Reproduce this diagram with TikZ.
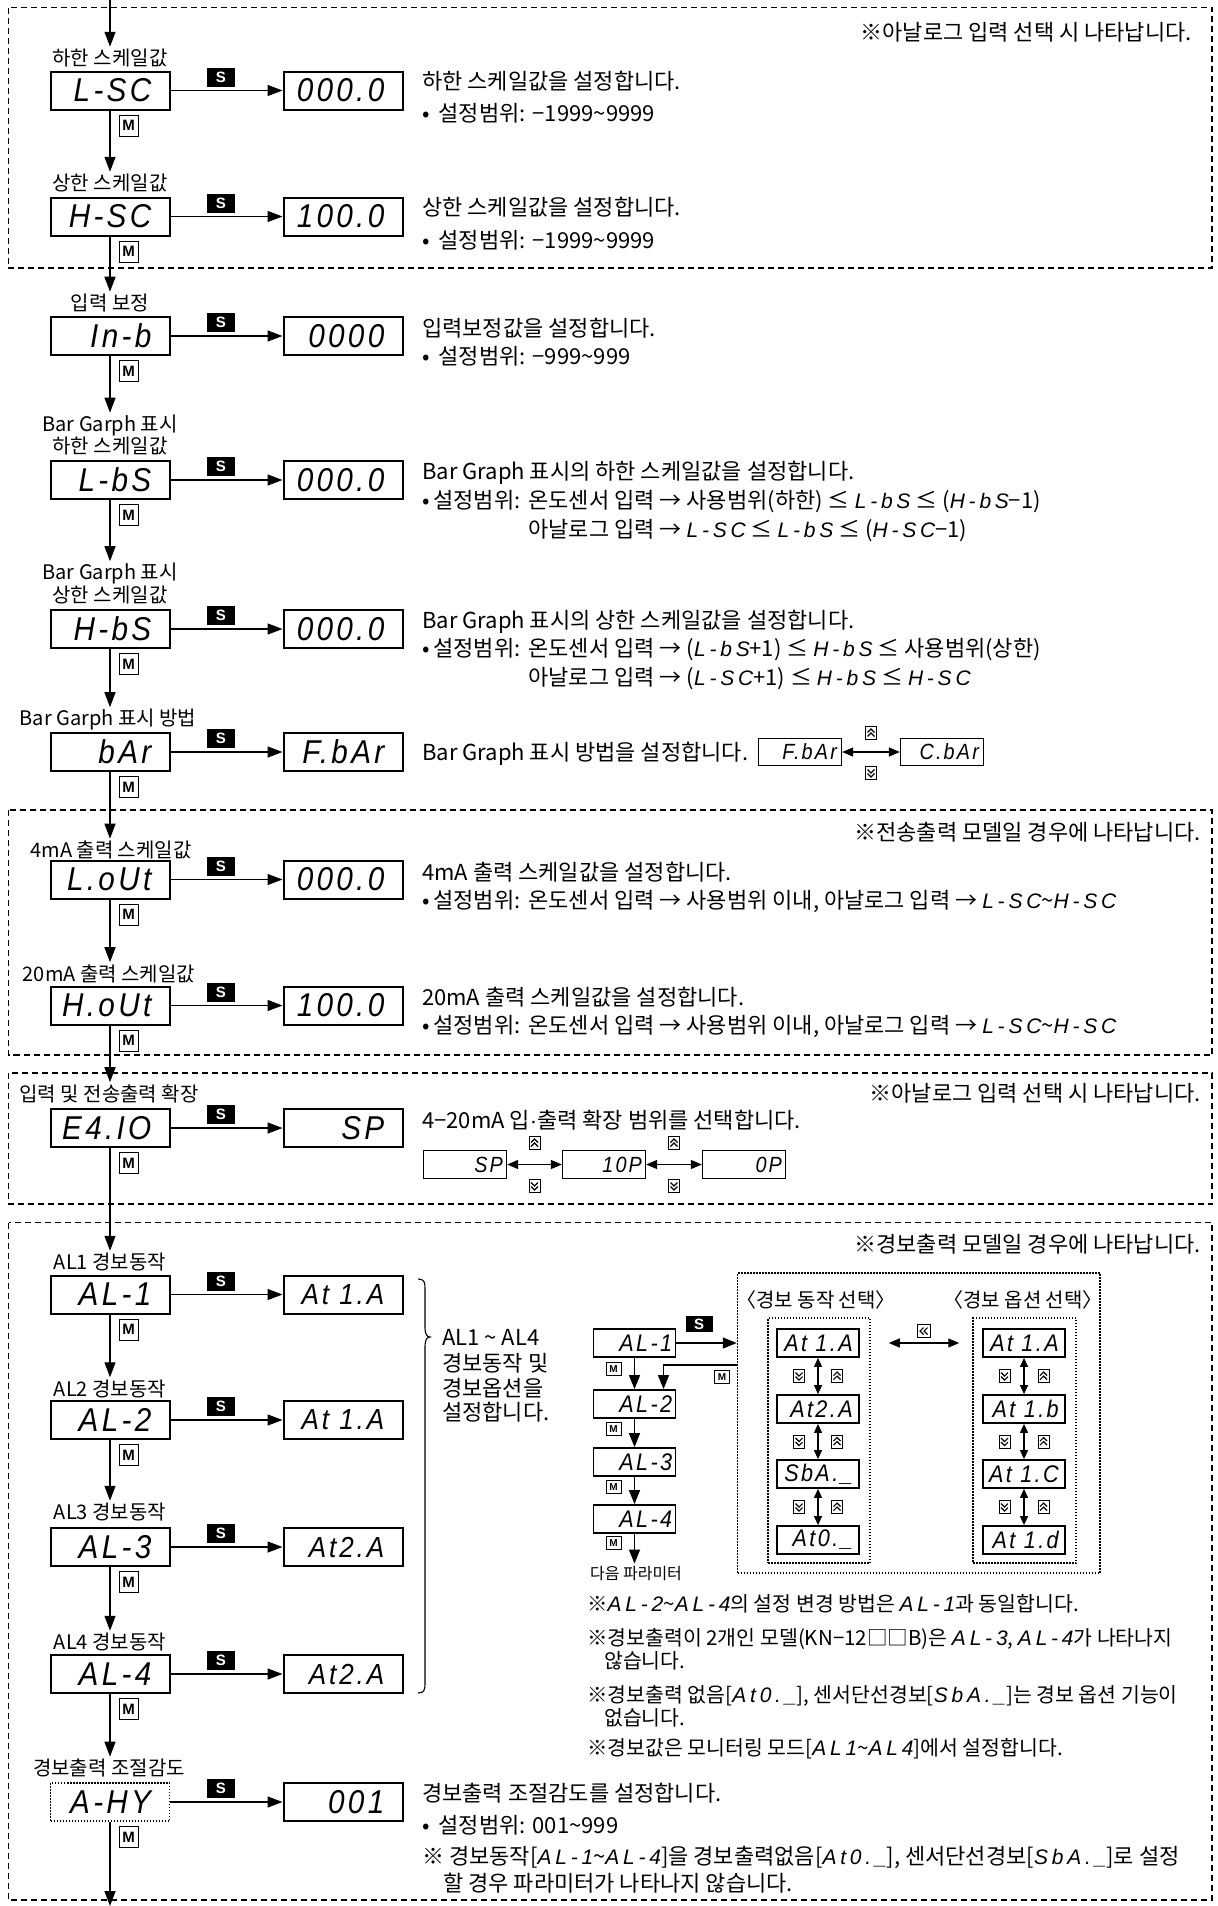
\documentclass[tikz,border=0pt]{standalone}
\usepackage{fontspec}
\setmainfont{Noto Sans CJK KR}
\newfontfamily\segf{Liberation Sans}[FakeStretch=0.9, LetterSpace=10]
\newfontfamily\segi{Liberation Sans}[LetterSpace=18]
\newfontfamily\keyf{Liberation Sans}
\usetikzlibrary{arrows.meta,calc}
\newcommand\sg[1]{{\segi\itshape\fontsize{21}{21}\selectfont #1}}
\newcommand\tld{\textasciitilde}
\newcommand\smv[1]{{\fontsize{29}{29}\selectfont #1}}
\newcommand\prow[5][]{%
  \node[dbox,#1] (#2) at (110,#3) {};
  \node[segt] (#2t) at ([xshift=-19pt]#2.east) {#4};
  \node[dbox] (#2v) at (343,#3) {};
  \node[segt] (#2vt) at ([xshift=-19pt]#2v.east) {#5};
  \draw[arr] (#2.east) -- (#2v.west);
  \node[skey] (#2s) at (221,#3-13.5) {S};
  \node[mkey] (#2m) at (128.5,#3+35) {M};
}
\tikzset{
 arr/.style={-{Triangle[length=15pt,width=11pt]}, line width=1.3},
 sarr/.style={-{Triangle[length=14pt,width=11pt]}, line width=1.3},
 darr/.style={{Triangle[length=11pt,width=9pt]}-{Triangle[length=11pt,width=9pt]}, line width=1.3},
 vdarr/.style={{Triangle[length=9pt,width=8pt]}-{Triangle[length=9pt,width=8pt]}, line width=1.2},
 dbox/.style={draw, line width=2, minimum width=119, minimum height=38, inner sep=0},
 segt/.style={font=\segf\itshape\fontsize{33}{33}\selectfont, inner sep=0, anchor=east},
 smallbox/.style={draw, line width=1.3, minimum width=83, minimum height=27.5, inner sep=0},
 smallt/.style={font=\segf\itshape\fontsize{22}{22}\selectfont, inner sep=0, anchor=east},
 alsbox/.style={draw, line width=1.8, minimum width=82, minimum height=28, inner sep=0},
 alst/.style={font=\segf\itshape\fontsize{24}{24}\selectfont, inner sep=0, anchor=east},
 skey/.style={fill=black, minimum width=28, minimum height=19, inner sep=0, text=white, font=\keyf\bfseries\fontsize{15}{15}\selectfont},
 mkey/.style={draw, line width=1, fill=white, minimum width=19, minimum height=21, inner sep=0, font=\keyf\bfseries\fontsize{15}{15}\selectfont},
 smkey/.style={draw, line width=0.8, fill=white, minimum width=15, minimum height=12.5, inner sep=0, font=\keyf\bfseries\fontsize{10}{10}\selectfont},
 lbl/.style={font=\fontsize{20}{21}\selectfont, inner sep=2, align=center},
 txt/.style={font=\fontsize{22}{24}\selectfont, inner sep=0, anchor=base west},
 mtxt/.style={font=\fontsize{20.5}{24}\selectfont, inner sep=0, anchor=base west},
 note/.style={font=\fontsize{22}{24}\selectfont, inner sep=0, anchor=east},
 dashbox/.style={line width=1.1, dash pattern=on 6pt off 4pt},
 dotbox/.style={line width=1.5, dash pattern=on 1.5pt off 1.5pt},
 upic/.pic={\draw[line width=0.7] (-5.5,-6.5) rectangle (5.5,6.5);
   \draw[line width=1.1] (-3.5,-0.5)--(0,-4)--(3.5,-0.5) (-3.5,3.5)--(0,0)--(3.5,3.5);},
 dnic/.pic={\draw[line width=0.7] (-5.5,-6.5) rectangle (5.5,6.5);
   \draw[line width=1.1] (-3.5,0.5)--(0,4)--(3.5,0.5) (-3.5,-3.5)--(0,0)--(3.5,-3.5);},
 lfic/.pic={\draw[line width=0.7] (-6.5,-6.5) rectangle (6.5,6.5);
   \draw[line width=1.1] (-0.5,-3.5)--(-4,0)--(-0.5,3.5) (3.5,-3.5)--(0,0)--(3.5,3.5);},
}
\begin{document}
\begin{tikzpicture}[x=1pt,y=-1pt]
\useasboundingbox (0,0) rectangle (1218,1906);

% dashed group boxes
\draw[dashbox] (8.5,7.5) rectangle (1212,268);
\draw[dashbox] (8.5,810) rectangle (1212,1055);
\draw[dashbox] (8.5,1073) rectangle (1212,1204);
\draw[dashbox] (8.5,1222.5) rectangle (1212,1900);

\node[note] (n1) at (1192,32) {※아날로그 입력 선택 시 나타납니다.};
\node[note] (n2) at (1201,832) {※전송출력 모델일 경우에 나타납니다.};
\node[note] (n3) at (1201,1093) {※아날로그 입력 선택 시 나타납니다.};
\node[note] (n4) at (1201,1244) {※경보출력 모델일 경우에 나타납니다.};

% row 1
\coordinate (top) at (110,0);
\node[lbl] (l1) at (110,58) {하한 스케일값};
\draw[arr] (top) -- (l1.north);
\prow{lsc}{90.5}{L-SC}{000.0}
\node[txt] (t1a) at (422,89) {하한 스케일값을 설정합니다.};
\node[txt] (t1b) at (422,121.5) {•\hspace{9pt}설정범위:\hspace{7pt}−1999\tld9999};

% row 2
\node[lbl] (l2) at (110,183) {상한 스케일값};
\draw[arr] (lsc.south) -- (lsc.south |- l2.north);
\prow{hsc}{216.5}{H-SC}{100.0}
\node[txt] (t2a) at (422,215) {상한 스케일값을 설정합니다.};
\node[txt] (t2b) at (422,248) {•\hspace{9pt}설정범위:\hspace{7pt}−1999\tld9999};

% row 3
\node[lbl] (l3) at (110,303) {입력 보정};
\draw[arr] (hsc.south) -- (hsc.south |- l3.north);
\prow{inb}{336}{In-b}{0000}
\node[txt] (t3a) at (422,336) {입력보정값을 설정합니다.};
\node[txt] (t3b) at (422,364.5) {•\hspace{9pt}설정범위:\hspace{7pt}−999\tld999};

% row 4
\node[lbl] (l4) at (110,435) {Bar Garph 표시\\하한 스케일값};
\draw[arr] (inb.south) -- (inb.south |- l4.north);
\prow{lbs}{480}{L-bS}{000.0}
\node[txt] (t4a) at (422,479) {Bar Graph 표시의 하한 스케일값을 설정합니다.};
\node[txt] (t4b) at (422,508) {•\,설정범위:\hspace{8pt}온도센서 입력 → 사용범위(하한) ≤ \sg{L-bS} ≤ (\sg{H-bS}−1)};
\node[txt] (t4c) at (422,537) {\phantom{•\,설정범위:\hspace{8pt}}아날로그 입력 → \sg{L-SC} ≤ \sg{L-bS} ≤ (\sg{H-SC}−1)};

% row 5
\node[lbl] (l5) at (110,583.5) {Bar Garph 표시\\상한 스케일값};
\draw[arr] (lbs.south) -- (lbs.south |- l5.north);
\prow{hbs}{629}{H-bS}{000.0}
\node[txt] (t5a) at (422,628) {Bar Graph 표시의 상한 스케일값을 설정합니다.};
\node[txt] (t5b) at (422,656.5) {•\,설정범위:\hspace{8pt}온도센서 입력 → (\sg{L-bS}+1) ≤ \sg{H-bS} ≤ 사용범위(상한)};
\node[txt] (t5c) at (422,685.5) {\phantom{•\,설정범위:\hspace{8pt}}아날로그 입력 → (\sg{L-SC}+1) ≤ \sg{H-bS} ≤ \sg{H-SC}};

% row 6
\node[lbl] (l6) at (108,720) {Bar Garph 표시 방법};
\draw[arr] (hbs.south) -- (hbs.south |- l6.north);
\prow{bar}{752}{bAr}{F.bAr}
\node[txt] (t6a) at (422,760) {Bar Graph 표시 방법을 설정합니다.};
\node[smallbox] (fb) at (800,752) {};
\node[smallt] (fbt) at ([xshift=-5pt]fb.east) {F.bAr};
\node[smallbox] (cb) at (942,752) {};
\node[smallt] (cbt) at ([xshift=-5pt]cb.east) {C.bAr};
\draw[darr] (fb) -- (cb);
\pic at (871,733) {upic};
\pic at (871,773) {dnic};

% row 7
\node[lbl] (l7) at (111,850) {4mA 출력 스케일값};
\draw[arr] (bar.south) -- (bar.south |- l7.north);
\prow{lout}{879.5}{L.oUt}{000.0}
\node[txt] (t7a) at (422,880) {4mA 출력 스케일값을 설정합니다.};
\node[txt] (t7b) at (422,908) {•\,설정범위:\hspace{8pt}온도센서 입력 → 사용범위 이내, 아날로그 입력 → \sg{L-SC}\tld\sg{H-SC}};

% row 8
\node[lbl] (l8) at (109,973.5) {20mA 출력 스케일값};
\draw[arr] (lout.south) -- (lout.south |- l8.north);
\prow{hout}{1005.5}{H.oUt}{100.0}
\node[txt] (t8a) at (422,1005) {20mA 출력 스케일값을 설정합니다.};
\node[txt] (t8b) at (422,1033) {•\,설정범위:\hspace{8pt}온도센서 입력 → 사용범위 이내, 아날로그 입력 → \sg{L-SC}\tld\sg{H-SC}};

% row 9
\node[lbl] (l9) at (109,1093.5) {입력 및 전송출력 확장};
\draw[arr] (hout.south) -- (hout.south |- l9.north);
\prow{ext}{1128}{E4.IO}{SP}
\node[txt] (t9a) at (422,1128) {4−20mA 입{\keyf ·}출력 확장 범위를 선택합니다.};
\node[smallbox] (sp) at (465,1164.5) {};
\node[smallt] (spt) at ([xshift=-4pt]sp.east) {SP};
\node[smallbox] (tp) at (604,1164.5) {};
\node[smallt] (tpt) at ([xshift=-4pt]tp.east) {10P};
\node[smallbox] (op) at (744,1164.5) {};
\node[smallt] (opt) at ([xshift=-4pt]op.east) {0P};
\draw[darr] (sp) -- (tp);
\draw[darr] (tp) -- (op);
\pic at (534.5,1143) {upic};
\pic at (534.5,1186) {dnic};
\pic at (674,1143) {upic};
\pic at (674,1186) {dnic};

% AL rows
\node[lbl] (l10) at (110,1262) {AL1 경보동작};
\draw[arr] (ext.south) -- (ext.south |- l10.north);
\prow{al1}{1294.5}{AL-1}{\smv{At 1.A}}
\node[lbl] (l11) at (110,1388.5) {AL2 경보동작};
\draw[arr] (al1.south) -- (al1.south |- l11.north);
\prow{al2}{1420}{AL-2}{\smv{At 1.A}}
\node[lbl] (l12) at (110,1512) {AL3 경보동작};
\draw[arr] (al2.south) -- (al2.south |- l12.north);
\prow{al3}{1547}{AL-3}{\smv{At2.A}}
\node[lbl] (l13) at (110,1642) {AL4 경보동작};
\draw[arr] (al3.south) -- (al3.south |- l13.north);
\prow{al4}{1674}{AL-4}{\smv{At2.A}}

% brace
\draw[line width=1.1] (418,1279) .. controls (424,1279) and (425,1282) .. (425,1288) -- (425,1328)
  .. controls (425,1334) and (427,1337) .. (430,1337)
  .. controls (427,1337) and (425,1340) .. (425,1346) -- (425,1684)
  .. controls (425,1690) and (424,1693) .. (418,1693);
\node[txt] (bt1) at (442,1345) {AL1 \tld\ AL4};
\node[txt] (bt2) at (442,1371) {경보동작 및};
\node[txt] (bt3) at (442,1396) {경보옵션을};
\node[txt] (bt4) at (442,1420) {설정합니다.};

% right diagram
\node[draw, dotbox, minimum width=362.5, minimum height=300, inner sep=0] (ob) at (918.75,1423) {};
\node[draw, dotbox, minimum width=102, minimum height=245, inner sep=0] (ibl) at (819,1440.5) {};
\node[draw, dotbox, minimum width=103, minimum height=245, inner sep=0] (ibr) at (1024.5,1440.5) {};
\node[lbl] (tt1) at (816,1300) {〈경보 동작 선택〉};
\node[lbl] (tt2) at (1023,1300) {〈경보 옵션 선택〉};

\node[alsbox] (r1) at (634.5,1343) {};
\node[alst] (r1t) at ([xshift=-4pt]r1.east) {AL-1};
\node[alsbox] (r2) at (634.5,1404) {};
\node[alst] (r2t) at ([xshift=-4pt]r2.east) {AL-2};
\node[alsbox] (r3) at (634.5,1462) {};
\node[alst] (r3t) at ([xshift=-4pt]r3.east) {AL-3};
\node[alsbox] (r4) at (634.5,1519) {};
\node[alst] (r4t) at ([xshift=-4pt]r4.east) {AL-4};
\node[font=\fontsize{16}{16}\selectfont, inner sep=2] (nx) at (636,1573) {다음 파라미터};
\node[skey, minimum width=27, minimum height=16] (rs) at (699,1324) {S};
\draw[sarr] (r1.east) -- (r1.east -| ob.west);
\coordinate (retS) at (737.5,1365);
\coordinate (retB) at (663.5,1365);
\draw[sarr] (retS) -- (retB) -- (retB |- r2.north);
\draw[sarr] (r1.south) -- (r2.north);
\draw[sarr] (r2.south) -- (r3.north);
\draw[sarr] (r3.south) -- (r4.north);
\draw[sarr] (r4.south) -- (r4.south |- nx.north);
\node[smkey] (rm1) at (613.5,1369) {M};
\node[smkey] (rm0) at (722,1377) {M};
\node[smkey] (rm2) at (613.5,1429) {M};
\node[smkey] (rm3) at (613.5,1487) {M};
\node[smkey] (rm4) at (613.5,1543) {M};

\node[alsbox] (a1) at (818,1343) {};
\node[alst] (a1t) at ([xshift=-7pt]a1.east) {At 1.A};
\node[alsbox] (a2) at (818,1409) {};
\node[alst] (a2t) at ([xshift=-7pt]a2.east) {At2.A};
\node[alsbox] (a3) at (818,1474) {};
\node[alst] (a3t) at ([xshift=-7pt]a3.east) {SbA.\_};
\node[alsbox] (a4) at (818,1540) {};
\node[alst] (a4t) at ([xshift=-7pt]a4.east) {At0.\_};
\node[alsbox] (b1) at (1024,1343) {};
\node[alst] (b1t) at ([xshift=-7pt]b1.east) {At 1.A};
\node[alsbox] (b2) at (1024,1409) {};
\node[alst] (b2t) at ([xshift=-7pt]b2.east) {At 1.b};
\node[alsbox] (b3) at (1024,1474) {};
\node[alst] (b3t) at ([xshift=-7pt]b3.east) {At 1.C};
\node[alsbox] (b4) at (1024,1540) {};
\node[alst] (b4t) at ([xshift=-7pt]b4.east) {At 1.d};
\draw[vdarr] (a1) -- (a2);
\draw[vdarr] (a2) -- (a3);
\draw[vdarr] (a3) -- (a4);
\draw[vdarr] (b1) -- (b2);
\draw[vdarr] (b2) -- (b3);
\draw[vdarr] (b3) -- (b4);
\foreach \yy in {1376,1441.5,1507}{
  \pic at (799,\yy) {dnic}; \pic at (837,\yy) {upic};
  \pic at (1004.5,\yy) {dnic}; \pic at (1043.5,\yy) {upic};
}
\draw[darr, shorten <=18pt, shorten >=13pt] (ibl.east |- a1) -- (ibr.west |- b1);
\pic at (924,1331) {lfic};

% notes
\node[mtxt] (m1) at (587,1611) {※\sg{AL-2}\tld\sg{AL-4}의 설정 변경 방법은 \sg{AL-1}과 동일합니다.};
\node[mtxt] (m2) at (587,1645) {※경보출력이 2개인 모델(KN−12□□B)은 \sg{AL-3}, \sg{AL-4}가 나타나지};
\node[mtxt] (m3) at (604,1668) {않습니다.};
\node[mtxt] (m4) at (587,1702) {※경보출력 없음[\sg{At0.\_}], 센서단선경보[\sg{SbA.\_}]는 경보 옵션 기능이};
\node[mtxt] (m5) at (604,1725) {없습니다.};
\node[mtxt] (m6) at (587,1755) {※경보값은 모니터링 모드[\sg{AL1}\tld\sg{AL4}]에서 설정합니다.};

% A-HY row
\node[lbl] (l14) at (109,1768) {경보출력 조절감도};
\draw[arr] (al4.south) -- (al4.south |- l14.north);
\prow[dotbox]{ahy}{1802}{A-HY}{001}
\node[txt] (t14a) at (422,1801) {경보출력 조절감도를 설정합니다.};
\node[txt] (t14b) at (422,1833.5) {•\hspace{9pt}설정범위:\hspace{7pt}001\tld999};
\node[txt] (t14c) at (422,1864) {※ 경보동작[\sg{AL-1}\tld\sg{AL-4}]을 경보출력없음[\sg{At0.\_}], 센서단선경보[\sg{SbA.\_}]로 설정};
\node[txt] (t14d) at (443,1891) {할 경우 파라미터가 나타나지 않습니다.};
\coordinate (bot) at (110,1906);
\draw[arr] (ahy.south) -- (bot);
\end{tikzpicture}
\end{document}
